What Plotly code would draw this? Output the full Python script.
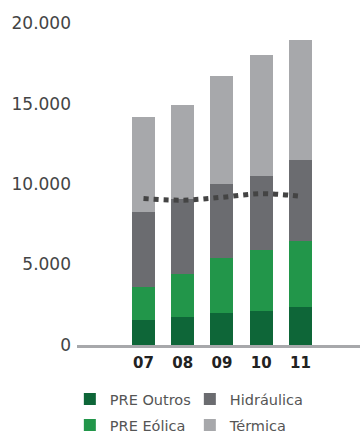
import plotly.graph_objects as go

# Generation capacity by source, stacked per year
years = ["07", "08", "09", "10", "11"]
pre_outros = [1550, 1750, 1990, 2110, 2360]
pre_eolica = [2050, 2680, 3430, 3800, 4090]
hidraulica = [4650, 4630, 4590, 4590, 5030]
termica = [5890, 5830, 6680, 7490, 7500]
demand_line = [9100, 9000, 9180, 9400, 9240]

y_ticks = [0, 5000, 10000, 15000, 20000]
y_tick_text = ["0", "5.000", "10.000", "15.000", "20.000"]

xpos = list(range(len(years)))

# (name, values, colour, legend row, order within row)
series = [
    ("PRE Outros", pre_outros, "#0e6638", "legend", 1),
    ("PRE Eólica", pre_eolica, "#22964a", "legend2", 1),
    ("Hidráulica", hidraulica, "#6b6c70", "legend", 2),
    ("Térmica", termica, "#a7a8ab", "legend2", 2),
]

fig = go.Figure()
for name, vals, color, leg, rank in series:
    fig.add_trace(go.Bar(
        x=xpos, y=vals, name=name, marker_color=color,
        marker_line_width=0, width=0.586, legend=leg, legendrank=rank,
    ))

fig.add_trace(go.Scatter(
    x=xpos, y=demand_line, mode="lines", showlegend=False,
    line=dict(color="#444444", width=5, dash="dot", shape="spline"),
))

legend_style = dict(
    orientation="h", xref="container", yref="container",
    x=0.194, xanchor="left", yanchor="middle",
    entrywidth=75, traceorder="normal",
    font=dict(size=14.5, color="#555555", family="DejaVu Sans"),
    bgcolor="rgba(0,0,0,0)",
)

fig.update_layout(
    width=360, height=434,
    barmode="stack",
    plot_bgcolor="white", paper_bgcolor="white",
    margin=dict(l=77, r=0, t=7, b=89, autoexpand=False),
    font=dict(family="DejaVu Sans, sans-serif"),
    showlegend=True,
    legend=dict(legend_style, y=1 - 399 / 434),
    legend2=dict(legend_style, y=1 - 425 / 434),
)

fig.update_xaxes(
    range=[-1.694, 5.516], tickvals=xpos, ticktext=years,
    showgrid=False, zeroline=False,
    showline=True, linecolor="#a7a8ab", linewidth=3,
    ticks="", ticklabelstandoff=2,
    tickfont=dict(size=15, color="#222222", family="DejaVu Sans", weight="bold"),
)
fig.update_yaxes(
    range=[0, 21000], tickvals=y_ticks, ticktext=y_tick_text,
    showgrid=False, zeroline=False, showline=False,
    ticks="", ticklabelstandoff=5,
    tickfont=dict(size=17, color="#444444"),
)

fig.write_html("out.html")
